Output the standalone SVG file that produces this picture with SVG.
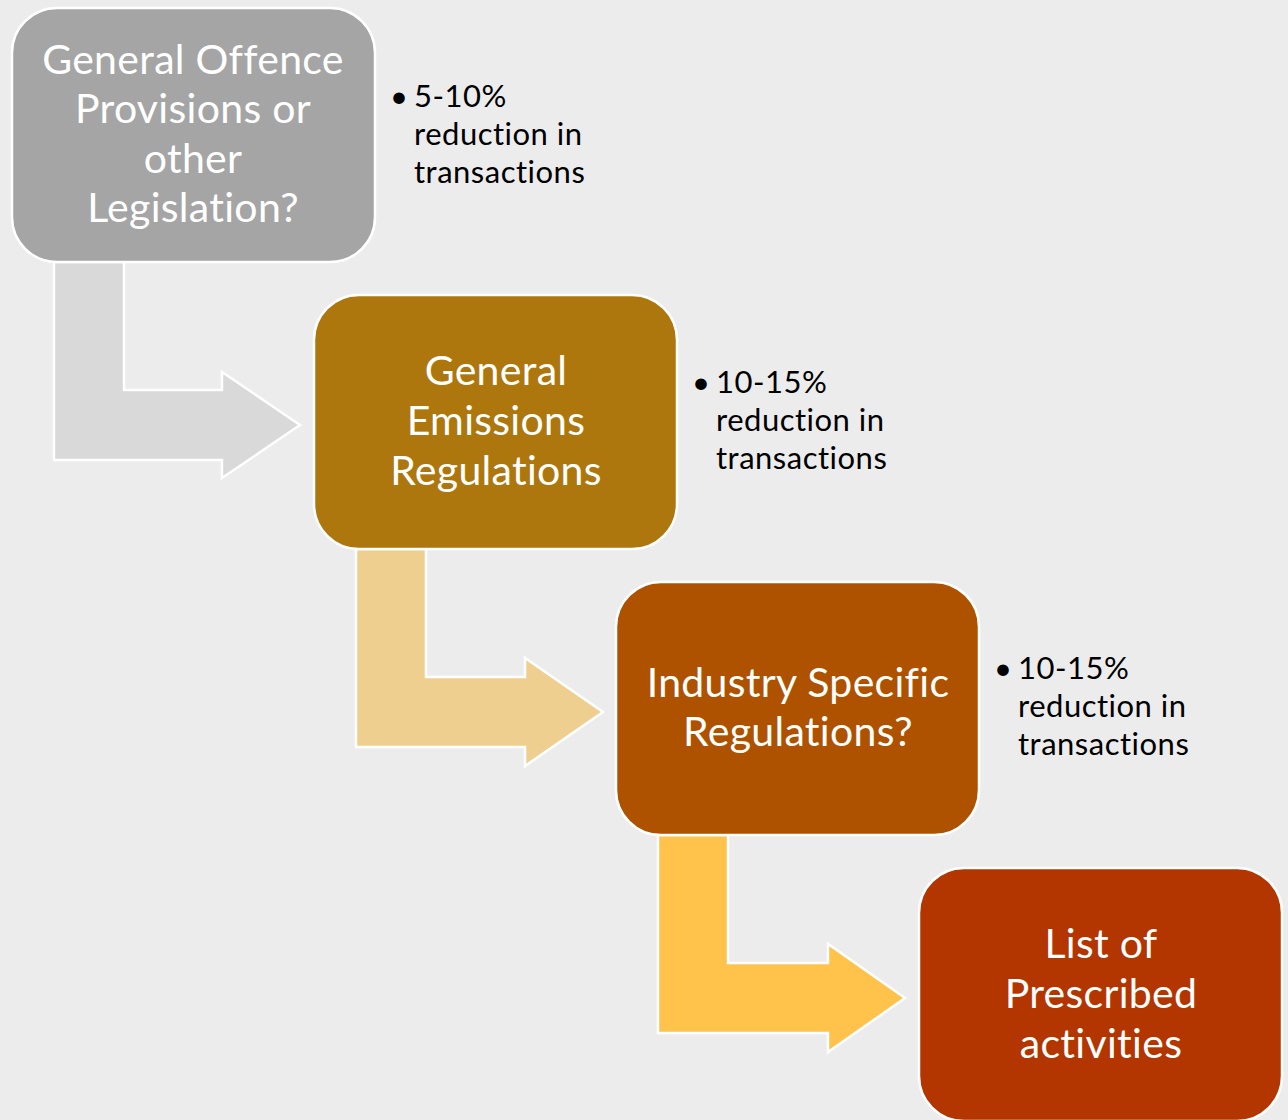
<svg xmlns="http://www.w3.org/2000/svg" width="1288" height="1120" viewBox="0 0 1288 1120">
<style>
.box{stroke:#FFFFFF;stroke-width:2.5}
.arr{stroke:#FFFFFF;stroke-width:2.5;stroke-linejoin:miter}
.t{font-family:Lato,"Open Sans","Liberation Sans",sans-serif;font-size:41px;letter-spacing:0.3px;fill:#FFFFFF;text-anchor:middle;font-variant-ligatures:none;font-feature-settings:"liga" 0,"clig" 0,"dlig" 0,"calt" 0}
.s{font-family:Lato,"Open Sans","Liberation Sans",sans-serif;font-size:31px;letter-spacing:0.5px;fill:#000000;font-variant-ligatures:none;font-feature-settings:"liga" 0,"clig" 0,"dlig" 0,"calt" 0}
</style>
<rect width="1288" height="1120" fill="#ECECEC"/>
<g id="connectors">
<path class="arr" fill="#D9D9D9" d="M54,262 L124,262 L124,390 L222,390 L222,372 L300,425 L222,478 L222,460 L54,460 Z"/>
<path class="arr" fill="#EFCF8F" d="M356,549 L426,549 L426,677 L525,677 L525,658 L603,712 L525,766 L525,747 L356,747 Z"/>
<path class="arr" fill="#FFC24A" d="M658,835 L728,835 L728,963 L828,963 L828,944 L905,998 L828,1052 L828,1033 L658,1033 Z"/>
</g>
<g id="node1">
<rect class="box" x="12" y="8" width="363" height="254" rx="45" fill="#A5A5A5"/>
<text class="t" x="193" y="74">General Offence</text>
<text class="t" x="193" y="123">Provisions or</text>
<text class="t" x="193" y="173">other</text>
<text class="t" x="193" y="222">Legislation?</text>
</g>
<g id="note1">
<text class="s" x="390" y="107">•</text>
<text class="s" x="414" y="107">5-10%</text>
<text class="s" x="414" y="145">reduction in</text>
<text class="s" x="414" y="183">transactions</text>
</g>
<g id="node2">
<rect class="box" x="314" y="295" width="363" height="254" rx="45" fill="#AD770E"/>
<text class="t" x="496" y="385">General</text>
<text class="t" x="496" y="435">Emissions</text>
<text class="t" x="496" y="485">Regulations</text>
</g>
<g id="note2">
<text class="s" x="692" y="393">•</text>
<text class="s" x="716" y="393">10-15%</text>
<text class="s" x="716" y="431">reduction in</text>
<text class="s" x="716" y="469">transactions</text>
</g>
<g id="node3">
<rect class="box" x="616" y="582" width="363" height="253" rx="45" fill="#AE5200"/>
<text class="t" x="798" y="697">Industry Specific</text>
<text class="t" x="798" y="746">Regulations?</text>
</g>
<g id="note3">
<text class="s" x="994" y="679">•</text>
<text class="s" x="1018" y="679">10-15%</text>
<text class="s" x="1018" y="717">reduction in</text>
<text class="s" x="1018" y="755">transactions</text>
</g>
<g id="node4">
<rect class="box" x="919" y="868" width="363" height="253" rx="45" fill="#B33500"/>
<text class="t" x="1101" y="958">List of</text>
<text class="t" x="1101" y="1008">Prescribed</text>
<text class="t" x="1101" y="1058">activities</text>
</g>
</svg>
